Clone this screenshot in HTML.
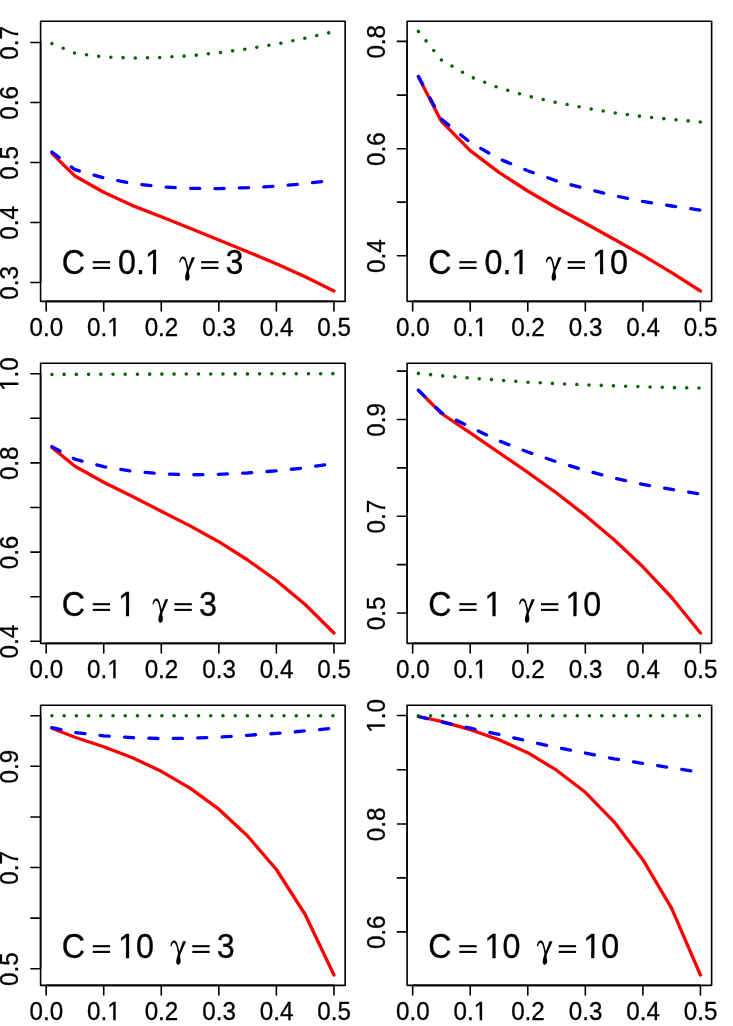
<!DOCTYPE html>
<html lang="en"><head><meta charset="utf-8"><title>plots</title>
<style>
html,body{margin:0;padding:0;background:#fff;}
svg{display:block;will-change:transform;}
text{font-family:"Liberation Sans",sans-serif;fill:#000;stroke:#000;stroke-width:0.3px;}
.ax{font-size:24.2px;}
.lb{font-size:32.25px;}
.k{stroke:#000;stroke-width:1.6;fill:none;stroke-linecap:round;stroke-linejoin:round;}
.c{fill:none;stroke-width:3.3;stroke-linecap:round;stroke-linejoin:round;}
.r{stroke:#ff0000;}
.b{stroke:#0000ff;stroke-dasharray:9.16 15.27;}
.g{stroke:#006400;stroke-width:3.6;stroke-dasharray:0 12.216;}
</style></head>
<body>
<svg width="733" height="1026" viewBox="0 0 733 1026">
<rect width="733" height="1026" fill="#fff"/>
<g transform="translate(0 0)">
<polyline class="c r" points="51.93,153.3 74.95,176 103.72,192.3 132.5,205.6 161.28,216.8 190.05,228.3 218.83,240 247.61,251.7 276.38,263.8 305.16,276.8 333.94,290.99"/>
<polyline class="c b" points="51.93,152 74.95,169.7 103.72,177.9 132.5,183.6 161.28,186.8 190.05,188.3 218.83,188.6 247.61,187.7 276.38,186.1 305.16,183.6 333.94,180.1"/>
<polyline class="c g" points="51.93,43.6 74.95,53.2 103.72,57 132.5,58 161.28,57.4 190.05,55.8 218.83,52.7 247.61,48.8 276.38,44.1 305.16,38.2 333.94,31.66"/>
<rect class="k" x="40.6" y="21.29" width="304.55" height="280.07"/>
<path class="k" d="M46.17 301.36v9.68M103.72 301.36v9.68M161.28 301.36v9.68M218.83 301.36v9.68M276.38 301.36v9.68M333.94 301.36v9.68M46.17 301.36H333.94M40.6 42.45h-9.68M40.6 102.45h-9.68M40.6 162.45h-9.68M40.6 222.45h-9.68M40.6 282.45h-9.68M40.6 42.45V282.45"/>
<g transform="translate(46.37 335.9) scale(1 1.03)"><text class="ax" x="-16.82" y="0">0.0</text></g><g transform="translate(103.92 335.9) scale(1 1.03)"><text class="ax" x="-16.82" y="0">0.1</text><rect x="4.33" y="-3.51" width="12.1" height="5.51" fill="#fff"/><rect x="9.3" y="-4.21" width="2.44" height="4.61" fill="#000"/></g><g transform="translate(161.48 335.9) scale(1 1.03)"><text class="ax" x="-16.82" y="0">0.2</text></g><g transform="translate(219.03 335.9) scale(1 1.03)"><text class="ax" x="-16.82" y="0">0.3</text></g><g transform="translate(276.58 335.9) scale(1 1.03)"><text class="ax" x="-16.82" y="0">0.4</text></g><g transform="translate(334.13 335.9) scale(1 1.03)"><text class="ax" x="-16.82" y="0">0.5</text></g>
<g transform="translate(18 42.85) rotate(-90) scale(1 1.03)"><text class="ax" x="-16.82" y="0">0.7</text></g><g transform="translate(18 102.85) rotate(-90) scale(1 1.03)"><text class="ax" x="-16.82" y="0">0.6</text></g><g transform="translate(18 162.85) rotate(-90) scale(1 1.03)"><text class="ax" x="-16.82" y="0">0.5</text></g><g transform="translate(18 222.85) rotate(-90) scale(1 1.03)"><text class="ax" x="-16.82" y="0">0.4</text></g><g transform="translate(18 282.85) rotate(-90) scale(1 1.03)"><text class="ax" x="-16.82" y="0">0.3</text></g>
<g transform="translate(61.7 273.8) scale(1 1.09)"><text class="lb" x="0" y="0">C</text></g><rect x="92.8" y="261.15" width="17.3" height="2.1" fill="#000"/><rect x="92.8" y="266.85" width="17.3" height="2.1" fill="#000"/><g transform="translate(118 273.8) scale(1 1.09)"><text class="lb" x="0" y="0">0.1</text><rect x="28.19" y="-4.11" width="16.12" height="6.11" fill="#fff"/><rect x="34.86" y="-4.81" width="3.15" height="5.21" fill="#000"/></g><path d="M179.35 262.5C179.5 259 181 256.5 183.1 256.5C184.8 256.5 185.9 258.3 186.6 260.9L188.3 267.5L191.9 257.2L195 257.2L189.2 270.5C188.9 271.5 188.9 272.5 189 273.2C189.2 274.3 189.6 275.3 189.6 276.7C189.6 279.1 188.4 280.7 187 280.7C185.8 280.7 185 279.3 185.1 277.5C185.2 275 186.4 272 186.9 269.5L185.8 264C185.2 261.3 184.4 258.7 182.8 258.7C181.6 258.7 180.9 260.1 180.5 262.3Z" fill="#000"/><rect x="201.2" y="261.15" width="17.3" height="2.1" fill="#000"/><rect x="201.2" y="266.85" width="17.3" height="2.1" fill="#000"/><g transform="translate(225.6 273.8) scale(1 1.09)"><text class="lb" x="0" y="0">3</text></g>
</g>
<g transform="translate(366.5 0)">
<polyline class="c r" points="51.93,76.9 74.95,121.4 103.72,150.6 132.5,172.4 161.28,191 190.05,207.7 218.83,223.2 247.61,239.3 276.38,255.4 305.16,272.6 333.94,290.99"/>
<polyline class="c b" points="51.93,76.4 74.95,119.2 103.72,142.4 132.5,158.8 161.28,170.8 190.05,180.9 218.83,188.6 247.61,195.6 276.38,201.4 305.16,206 333.94,210.1"/>
<polyline class="c g" points="51.93,31.4 74.95,60 103.72,76.7 132.5,87.8 161.28,96.1 190.05,102.5 218.83,108 247.61,112.8 276.38,116.6 305.16,119.4 333.94,122"/>
<rect class="k" x="40.6" y="21.29" width="304.55" height="280.07"/>
<path class="k" d="M46.17 301.36v9.68M103.72 301.36v9.68M161.28 301.36v9.68M218.83 301.36v9.68M276.38 301.36v9.68M333.94 301.36v9.68M46.17 301.36H333.94M40.6 41.4h-9.68M40.6 95.1h-9.68M40.6 148.8h-9.68M40.6 202.1h-9.68M40.6 255.8h-9.68M40.6 41.4V255.8"/>
<g transform="translate(46.37 335.9) scale(1 1.03)"><text class="ax" x="-16.82" y="0">0.0</text></g><g transform="translate(103.92 335.9) scale(1 1.03)"><text class="ax" x="-16.82" y="0">0.1</text><rect x="4.33" y="-3.51" width="12.1" height="5.51" fill="#fff"/><rect x="9.3" y="-4.21" width="2.44" height="4.61" fill="#000"/></g><g transform="translate(161.48 335.9) scale(1 1.03)"><text class="ax" x="-16.82" y="0">0.2</text></g><g transform="translate(219.03 335.9) scale(1 1.03)"><text class="ax" x="-16.82" y="0">0.3</text></g><g transform="translate(276.58 335.9) scale(1 1.03)"><text class="ax" x="-16.82" y="0">0.4</text></g><g transform="translate(334.13 335.9) scale(1 1.03)"><text class="ax" x="-16.82" y="0">0.5</text></g>
<g transform="translate(18 41.8) rotate(-90) scale(1 1.03)"><text class="ax" x="-16.82" y="0">0.8</text></g><g transform="translate(18 149.2) rotate(-90) scale(1 1.03)"><text class="ax" x="-16.82" y="0">0.6</text></g><g transform="translate(18 256.2) rotate(-90) scale(1 1.03)"><text class="ax" x="-16.82" y="0">0.4</text></g>
<g transform="translate(61.7 273.8) scale(1 1.09)"><text class="lb" x="0" y="0">C</text></g><rect x="92.8" y="261.15" width="17.3" height="2.1" fill="#000"/><rect x="92.8" y="266.85" width="17.3" height="2.1" fill="#000"/><g transform="translate(118 273.8) scale(1 1.09)"><text class="lb" x="0" y="0">0.1</text><rect x="28.19" y="-4.11" width="16.12" height="6.11" fill="#fff"/><rect x="34.86" y="-4.81" width="3.15" height="5.21" fill="#000"/></g><path d="M179.35 262.5C179.5 259 181 256.5 183.1 256.5C184.8 256.5 185.9 258.3 186.6 260.9L188.3 267.5L191.9 257.2L195 257.2L189.2 270.5C188.9 271.5 188.9 272.5 189 273.2C189.2 274.3 189.6 275.3 189.6 276.7C189.6 279.1 188.4 280.7 187 280.7C185.8 280.7 185 279.3 185.1 277.5C185.2 275 186.4 272 186.9 269.5L185.8 264C185.2 261.3 184.4 258.7 182.8 258.7C181.6 258.7 180.9 260.1 180.5 262.3Z" fill="#000"/><rect x="201.2" y="261.15" width="17.3" height="2.1" fill="#000"/><rect x="201.2" y="266.85" width="17.3" height="2.1" fill="#000"/><g transform="translate(225.6 273.8) scale(1 1.09)"><text class="lb" x="0" y="0">10</text><rect x="1.29" y="-4.11" width="16.12" height="6.11" fill="#fff"/><rect x="7.96" y="-4.81" width="3.15" height="5.21" fill="#000"/></g>
</g>
<g transform="translate(0 342)">
<polyline class="c r" points="51.93,105.4 74.95,124.3 103.72,140.2 132.5,154.4 161.28,169.2 190.05,183.9 218.83,199.7 247.61,218 276.38,238.5 305.16,262.5 333.94,290.99"/>
<polyline class="c b" points="51.93,104.6 74.95,117.2 103.72,124.7 132.5,129.3 161.28,131.8 190.05,132.8 218.83,132.3 247.61,131 276.38,128.8 305.16,125.8 333.94,121.4"/>
<polyline class="c g" points="51.93,32.45 74.95,32.4 103.72,32.3 132.5,32.2 161.28,32.1 190.05,32.05 218.83,31.95 247.61,31.9 276.38,31.8 305.16,31.7 333.94,31.66"/>
<rect class="k" x="40.6" y="21.29" width="304.55" height="280.07"/>
<path class="k" d="M46.17 301.36v9.68M103.72 301.36v9.68M161.28 301.36v9.68M218.83 301.36v9.68M276.38 301.36v9.68M333.94 301.36v9.68M46.17 301.36H333.94M40.6 31.7h-9.68M40.6 76.3h-9.68M40.6 120.9h-9.68M40.6 165.5h-9.68M40.6 210.1h-9.68M40.6 254.7h-9.68M40.6 299.3h-9.68M40.6 31.7V299.3"/>
<g transform="translate(46.37 335.9) scale(1 1.03)"><text class="ax" x="-16.82" y="0">0.0</text></g><g transform="translate(103.92 335.9) scale(1 1.03)"><text class="ax" x="-16.82" y="0">0.1</text><rect x="4.33" y="-3.51" width="12.1" height="5.51" fill="#fff"/><rect x="9.3" y="-4.21" width="2.44" height="4.61" fill="#000"/></g><g transform="translate(161.48 335.9) scale(1 1.03)"><text class="ax" x="-16.82" y="0">0.2</text></g><g transform="translate(219.03 335.9) scale(1 1.03)"><text class="ax" x="-16.82" y="0">0.3</text></g><g transform="translate(276.58 335.9) scale(1 1.03)"><text class="ax" x="-16.82" y="0">0.4</text></g><g transform="translate(334.13 335.9) scale(1 1.03)"><text class="ax" x="-16.82" y="0">0.5</text></g>
<g transform="translate(18 32.1) rotate(-90) scale(1 1.03)"><text class="ax" x="-16.82" y="0">1.0</text><rect x="-15.85" y="-3.51" width="12.1" height="5.51" fill="#fff"/><rect x="-10.89" y="-4.21" width="2.44" height="4.61" fill="#000"/></g><g transform="translate(18 121.3) rotate(-90) scale(1 1.03)"><text class="ax" x="-16.82" y="0">0.8</text></g><g transform="translate(18 210.5) rotate(-90) scale(1 1.03)"><text class="ax" x="-16.82" y="0">0.6</text></g><g transform="translate(18 299.7) rotate(-90) scale(1 1.03)"><text class="ax" x="-16.82" y="0">0.4</text></g>
<g transform="translate(61.7 273.8) scale(1 1.09)"><text class="lb" x="0" y="0">C</text></g><rect x="92.8" y="261.15" width="17.3" height="2.1" fill="#000"/><rect x="92.8" y="266.85" width="17.3" height="2.1" fill="#000"/><g transform="translate(118 273.8) scale(1 1.09)"><text class="lb" x="0" y="0">1</text><rect x="1.29" y="-4.11" width="16.12" height="6.11" fill="#fff"/><rect x="7.96" y="-4.81" width="3.15" height="5.21" fill="#000"/></g><path d="M152.65 262.5C152.8 259 154.3 256.5 156.4 256.5C158.1 256.5 159.2 258.3 159.9 260.9L161.6 267.5L165.2 257.2L168.3 257.2L162.5 270.5C162.2 271.5 162.2 272.5 162.3 273.2C162.5 274.3 162.9 275.3 162.9 276.7C162.9 279.1 161.7 280.7 160.3 280.7C159.1 280.7 158.3 279.3 158.4 277.5C158.5 275 159.7 272 160.2 269.5L159.1 264C158.5 261.3 157.7 258.7 156.1 258.7C154.9 258.7 154.2 260.1 153.8 262.3Z" fill="#000"/><rect x="174.5" y="261.15" width="17.3" height="2.1" fill="#000"/><rect x="174.5" y="266.85" width="17.3" height="2.1" fill="#000"/><g transform="translate(198.9 273.8) scale(1 1.09)"><text class="lb" x="0" y="0">3</text></g>
</g>
<g transform="translate(366.5 342)">
<polyline class="c r" points="51.93,48.3 74.95,71.5 103.72,90.9 132.5,110.6 161.28,130.4 190.05,151 218.83,173.4 247.61,197.8 276.38,224.8 305.16,255.5 333.94,290.99"/>
<polyline class="c b" points="51.93,48.3 74.95,70.7 103.72,85.1 132.5,98.8 161.28,110 190.05,119.8 218.83,128.4 247.61,136.1 276.38,142.4 305.16,147.3 333.94,152"/>
<polyline class="c g" points="51.93,31.4 74.95,33.8 103.72,36 132.5,38.2 161.28,40.2 190.05,41.6 218.83,42.8 247.61,43.9 276.38,44.7 305.16,45.6 333.94,46.1"/>
<rect class="k" x="40.6" y="21.29" width="304.55" height="280.07"/>
<path class="k" d="M46.17 301.36v9.68M103.72 301.36v9.68M161.28 301.36v9.68M218.83 301.36v9.68M276.38 301.36v9.68M333.94 301.36v9.68M46.17 301.36H333.94M40.6 29.1h-9.68M40.6 77.47h-9.68M40.6 125.84h-9.68M40.6 174.2h-9.68M40.6 222.6h-9.68M40.6 270.95h-9.68M40.6 29.1V270.95"/>
<g transform="translate(46.37 335.9) scale(1 1.03)"><text class="ax" x="-16.82" y="0">0.0</text></g><g transform="translate(103.92 335.9) scale(1 1.03)"><text class="ax" x="-16.82" y="0">0.1</text><rect x="4.33" y="-3.51" width="12.1" height="5.51" fill="#fff"/><rect x="9.3" y="-4.21" width="2.44" height="4.61" fill="#000"/></g><g transform="translate(161.48 335.9) scale(1 1.03)"><text class="ax" x="-16.82" y="0">0.2</text></g><g transform="translate(219.03 335.9) scale(1 1.03)"><text class="ax" x="-16.82" y="0">0.3</text></g><g transform="translate(276.58 335.9) scale(1 1.03)"><text class="ax" x="-16.82" y="0">0.4</text></g><g transform="translate(334.13 335.9) scale(1 1.03)"><text class="ax" x="-16.82" y="0">0.5</text></g>
<g transform="translate(18 77.87) rotate(-90) scale(1 1.03)"><text class="ax" x="-16.82" y="0">0.9</text></g><g transform="translate(18 174.6) rotate(-90) scale(1 1.03)"><text class="ax" x="-16.82" y="0">0.7</text></g><g transform="translate(18 271.35) rotate(-90) scale(1 1.03)"><text class="ax" x="-16.82" y="0">0.5</text></g>
<g transform="translate(61.7 273.8) scale(1 1.09)"><text class="lb" x="0" y="0">C</text></g><rect x="92.8" y="261.15" width="17.3" height="2.1" fill="#000"/><rect x="92.8" y="266.85" width="17.3" height="2.1" fill="#000"/><g transform="translate(118 273.8) scale(1 1.09)"><text class="lb" x="0" y="0">1</text><rect x="1.29" y="-4.11" width="16.12" height="6.11" fill="#fff"/><rect x="7.96" y="-4.81" width="3.15" height="5.21" fill="#000"/></g><path d="M152.65 262.5C152.8 259 154.3 256.5 156.4 256.5C158.1 256.5 159.2 258.3 159.9 260.9L161.6 267.5L165.2 257.2L168.3 257.2L162.5 270.5C162.2 271.5 162.2 272.5 162.3 273.2C162.5 274.3 162.9 275.3 162.9 276.7C162.9 279.1 161.7 280.7 160.3 280.7C159.1 280.7 158.3 279.3 158.4 277.5C158.5 275 159.7 272 160.2 269.5L159.1 264C158.5 261.3 157.7 258.7 156.1 258.7C154.9 258.7 154.2 260.1 153.8 262.3Z" fill="#000"/><rect x="174.5" y="261.15" width="17.3" height="2.1" fill="#000"/><rect x="174.5" y="266.85" width="17.3" height="2.1" fill="#000"/><g transform="translate(198.9 273.8) scale(1 1.09)"><text class="lb" x="0" y="0">10</text><rect x="1.29" y="-4.11" width="16.12" height="6.11" fill="#fff"/><rect x="7.96" y="-4.81" width="3.15" height="5.21" fill="#000"/></g>
</g>
<g transform="translate(0 684)">
<polyline class="c r" points="51.93,44.2 74.95,53.2 103.72,62.7 132.5,73.7 161.28,87.3 190.05,104.2 218.83,125.2 247.61,152 276.38,185.5 305.16,230.5 333.94,290.99"/>
<polyline class="c b" points="51.93,43.6 74.95,48.6 103.72,51.8 132.5,53.7 161.28,54.6 190.05,54.2 218.83,53.1 247.61,51.3 276.38,49.4 305.16,46.9 333.94,44.2"/>
<polyline class="c g" points="51.93,31.68 74.95,31.68 103.72,31.68 132.5,31.68 161.28,31.68 190.05,31.68 218.83,31.68 247.61,31.68 276.38,31.68 305.16,31.68 333.94,31.68"/>
<rect class="k" x="40.6" y="21.29" width="304.55" height="280.07"/>
<path class="k" d="M46.17 301.36v9.68M103.72 301.36v9.68M161.28 301.36v9.68M218.83 301.36v9.68M276.38 301.36v9.68M333.94 301.36v9.68M46.17 301.36H333.94M40.6 31.69h-9.68M40.6 82.31h-9.68M40.6 132.93h-9.68M40.6 183.55h-9.68M40.6 234.17h-9.68M40.6 284.79h-9.68M40.6 31.69V284.79"/>
<g transform="translate(46.37 335.9) scale(1 1.03)"><text class="ax" x="-16.82" y="0">0.0</text></g><g transform="translate(103.92 335.9) scale(1 1.03)"><text class="ax" x="-16.82" y="0">0.1</text><rect x="4.33" y="-3.51" width="12.1" height="5.51" fill="#fff"/><rect x="9.3" y="-4.21" width="2.44" height="4.61" fill="#000"/></g><g transform="translate(161.48 335.9) scale(1 1.03)"><text class="ax" x="-16.82" y="0">0.2</text></g><g transform="translate(219.03 335.9) scale(1 1.03)"><text class="ax" x="-16.82" y="0">0.3</text></g><g transform="translate(276.58 335.9) scale(1 1.03)"><text class="ax" x="-16.82" y="0">0.4</text></g><g transform="translate(334.13 335.9) scale(1 1.03)"><text class="ax" x="-16.82" y="0">0.5</text></g>
<g transform="translate(18 82.71) rotate(-90) scale(1 1.03)"><text class="ax" x="-16.82" y="0">0.9</text></g><g transform="translate(18 183.95) rotate(-90) scale(1 1.03)"><text class="ax" x="-16.82" y="0">0.7</text></g><g transform="translate(18 285.19) rotate(-90) scale(1 1.03)"><text class="ax" x="-16.82" y="0">0.5</text></g>
<g transform="translate(61.7 273.8) scale(1 1.09)"><text class="lb" x="0" y="0">C</text></g><rect x="92.8" y="261.15" width="17.3" height="2.1" fill="#000"/><rect x="92.8" y="266.85" width="17.3" height="2.1" fill="#000"/><g transform="translate(118 273.8) scale(1 1.09)"><text class="lb" x="0" y="0">10</text><rect x="1.29" y="-4.11" width="16.12" height="6.11" fill="#fff"/><rect x="7.96" y="-4.81" width="3.15" height="5.21" fill="#000"/></g><path d="M170.45 262.5C170.6 259 172.1 256.5 174.2 256.5C175.9 256.5 177 258.3 177.7 260.9L179.4 267.5L183 257.2L186.1 257.2L180.3 270.5C180 271.5 180 272.5 180.1 273.2C180.3 274.3 180.7 275.3 180.7 276.7C180.7 279.1 179.5 280.7 178.1 280.7C176.9 280.7 176.1 279.3 176.2 277.5C176.3 275 177.5 272 178 269.5L176.9 264C176.3 261.3 175.5 258.7 173.9 258.7C172.7 258.7 172 260.1 171.6 262.3Z" fill="#000"/><rect x="192.3" y="261.15" width="17.3" height="2.1" fill="#000"/><rect x="192.3" y="266.85" width="17.3" height="2.1" fill="#000"/><g transform="translate(216.7 273.8) scale(1 1.09)"><text class="lb" x="0" y="0">3</text></g>
</g>
<g transform="translate(366.5 684)">
<polyline class="c r" points="51.93,32.5 74.95,37.4 103.72,45.6 132.5,55.7 161.28,68.7 190.05,86.2 218.83,108.3 247.61,137.8 276.38,175.7 305.16,224.3 333.94,290.99"/>
<polyline class="c b" points="51.93,32.5 74.95,37.9 103.72,44.2 132.5,50.5 161.28,57.1 190.05,63.5 218.83,69 247.61,74.8 276.38,79.4 305.16,83.8 333.94,88.4"/>
<polyline class="c g" points="51.93,31.68 74.95,31.68 103.72,31.68 132.5,31.68 161.28,31.68 190.05,31.68 218.83,31.68 247.61,31.68 276.38,31.68 305.16,31.68 333.94,31.68"/>
<rect class="k" x="40.6" y="21.29" width="304.55" height="280.07"/>
<path class="k" d="M46.17 301.36v9.68M103.72 301.36v9.68M161.28 301.36v9.68M218.83 301.36v9.68M276.38 301.36v9.68M333.94 301.36v9.68M46.17 301.36H333.94M40.6 31.45h-9.68M40.6 85.75h-9.68M40.6 140.05h-9.68M40.6 193.9h-9.68M40.6 247.9h-9.68M40.6 31.45V247.9"/>
<g transform="translate(46.37 335.9) scale(1 1.03)"><text class="ax" x="-16.82" y="0">0.0</text></g><g transform="translate(103.92 335.9) scale(1 1.03)"><text class="ax" x="-16.82" y="0">0.1</text><rect x="4.33" y="-3.51" width="12.1" height="5.51" fill="#fff"/><rect x="9.3" y="-4.21" width="2.44" height="4.61" fill="#000"/></g><g transform="translate(161.48 335.9) scale(1 1.03)"><text class="ax" x="-16.82" y="0">0.2</text></g><g transform="translate(219.03 335.9) scale(1 1.03)"><text class="ax" x="-16.82" y="0">0.3</text></g><g transform="translate(276.58 335.9) scale(1 1.03)"><text class="ax" x="-16.82" y="0">0.4</text></g><g transform="translate(334.13 335.9) scale(1 1.03)"><text class="ax" x="-16.82" y="0">0.5</text></g>
<g transform="translate(18 31.85) rotate(-90) scale(1 1.03)"><text class="ax" x="-16.82" y="0">1.0</text><rect x="-15.85" y="-3.51" width="12.1" height="5.51" fill="#fff"/><rect x="-10.89" y="-4.21" width="2.44" height="4.61" fill="#000"/></g><g transform="translate(18 140.45) rotate(-90) scale(1 1.03)"><text class="ax" x="-16.82" y="0">0.8</text></g><g transform="translate(18 248.3) rotate(-90) scale(1 1.03)"><text class="ax" x="-16.82" y="0">0.6</text></g>
<g transform="translate(61.7 273.8) scale(1 1.09)"><text class="lb" x="0" y="0">C</text></g><rect x="92.8" y="261.15" width="17.3" height="2.1" fill="#000"/><rect x="92.8" y="266.85" width="17.3" height="2.1" fill="#000"/><g transform="translate(118 273.8) scale(1 1.09)"><text class="lb" x="0" y="0">10</text><rect x="1.29" y="-4.11" width="16.12" height="6.11" fill="#fff"/><rect x="7.96" y="-4.81" width="3.15" height="5.21" fill="#000"/></g><path d="M170.45 262.5C170.6 259 172.1 256.5 174.2 256.5C175.9 256.5 177 258.3 177.7 260.9L179.4 267.5L183 257.2L186.1 257.2L180.3 270.5C180 271.5 180 272.5 180.1 273.2C180.3 274.3 180.7 275.3 180.7 276.7C180.7 279.1 179.5 280.7 178.1 280.7C176.9 280.7 176.1 279.3 176.2 277.5C176.3 275 177.5 272 178 269.5L176.9 264C176.3 261.3 175.5 258.7 173.9 258.7C172.7 258.7 172 260.1 171.6 262.3Z" fill="#000"/><rect x="192.3" y="261.15" width="17.3" height="2.1" fill="#000"/><rect x="192.3" y="266.85" width="17.3" height="2.1" fill="#000"/><g transform="translate(216.7 273.8) scale(1 1.09)"><text class="lb" x="0" y="0">10</text><rect x="1.29" y="-4.11" width="16.12" height="6.11" fill="#fff"/><rect x="7.96" y="-4.81" width="3.15" height="5.21" fill="#000"/></g>
</g>
</svg>
</body></html>
